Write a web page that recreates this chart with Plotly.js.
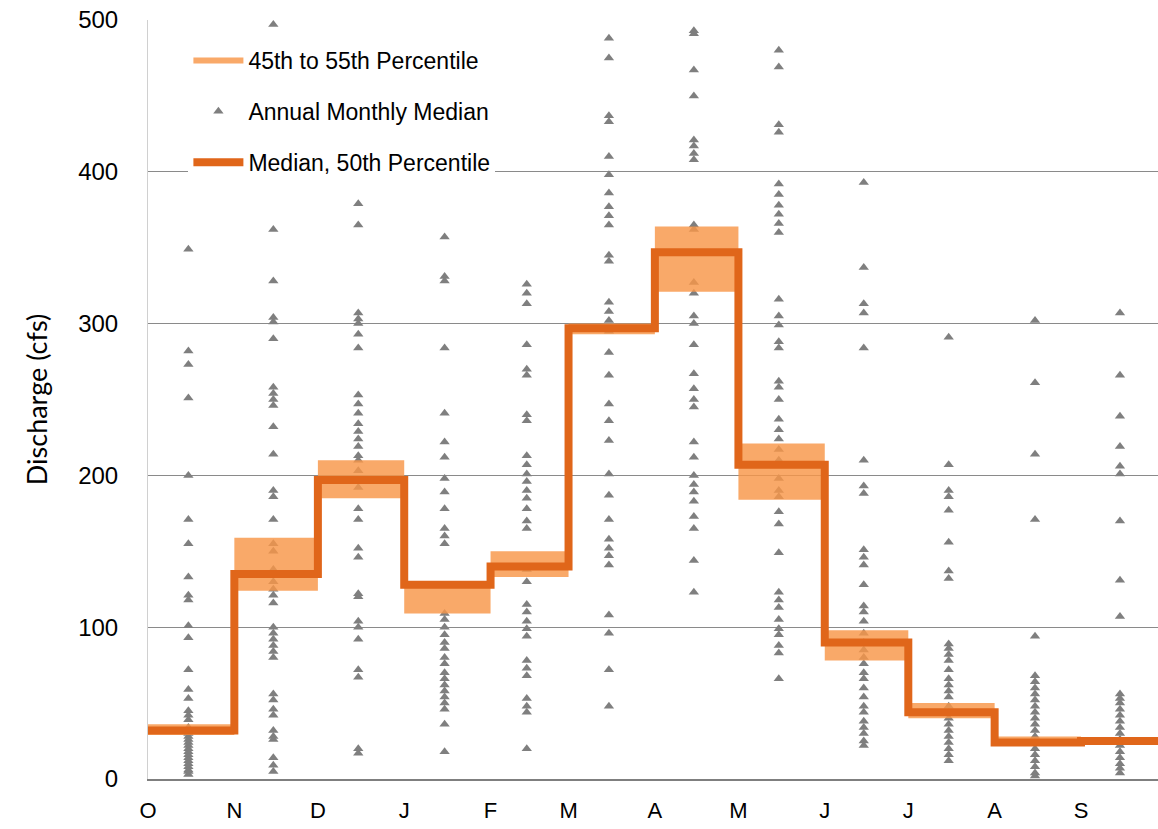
<!DOCTYPE html>
<html><head><meta charset="utf-8">
<script src="https://cdn.plot.ly/plotly-3.0.1.min.js"></script>
<style>html,body{margin:0;padding:0;background:#fff;overflow:hidden}#chart{width:1158px;height:829px}</style>
</head><body><div id="chart"></div>
<script>
// Month tick labels (water year, Oct - Sep) and month start days
const monthLabels = ['O','N','D','J','F','M','A','M','J','J','A','S'];
const monthStartDay = [0,31,61,92,123,151,182,212,243,273,304,335];
const waterYearEnd = 365;

// Median (50th percentile) and 45th / 55th percentile bands, cfs
const median50 = [32, 135, 197, 128, 140, 297, 347, 207, 90, 44, 24, 25];
const pct45    = [29, 124, 185, 109, 133, 293, 321, 184, 78, 40, 22, 23];
const pct55    = [36, 159, 210, 129, 150, 300, 364, 221, 98, 50, 28, 26];

// Annual monthly medians (one value per year), cfs
const octVals = [349,282,273,251,200,171,155,133,121,118,101,93,72,59,53,45,42,39,34,30,28,26,24,22,20,18,16,14,12,10,8,6,5,3];
const novVals = [497,362,328,304,301,290,258,254,250,246,232,214,190,186,171,155,150,138,130,125,121,116,100,96,92,88,84,80,56,52,46,42,32,28,26,14,9,5];
const decVals = [379,365,307,303,300,293,284,253,247,241,234,229,224,219,213,210,203,196,192,178,171,152,146,122,120,104,100,92,72,67,20,17];
const janVals = [357,331,328,284,241,222,212,198,189,178,165,160,155,109,105,100,95,90,86,80,76,70,66,62,58,54,50,46,36,18];
const febVals = [326,320,313,286,270,266,240,236,213,207,201,196,190,185,178,170,165,138,130,115,110,104,99,94,78,73,68,53,48,44,20];
const marVals = [488,475,437,433,410,398,386,377,371,365,345,341,314,308,302,295,281,266,247,236,223,201,187,171,158,152,147,141,108,96,72,48];
const aprVals = [493,491,467,450,421,417,412,408,365,362,327,320,305,300,286,267,257,250,245,222,212,200,194,189,183,173,165,144,123];
const mayVals = [480,469,431,426,392,385,378,372,366,360,316,305,299,288,284,262,258,250,237,230,224,217,210,198,190,186,176,168,149,123,118,113,105,99,95,88,83,66];
const junVals = [393,337,313,307,284,210,193,188,151,146,141,128,114,110,104,96,90,85,80,76,70,66,60,54,48,44,38,34,30,25,22];
const julVals = [291,207,190,186,177,156,137,132,89,86,82,78,72,66,62,58,54,48,44,40,36,32,28,24,20,16,12];
const augVals = [302,261,214,171,94,68,64,60,56,52,48,44,40,36,32,28,24,20,16,12,8,4,2];
const sepVals = [307,266,239,219,206,201,170,131,107,56,53,50,46,42,38,34,30,26,22,18,14,10,7,4];

const monthlyVals = [octVals,novVals,decVals,janVals,febVals,marVals,aprVals,mayVals,junVals,julVals,augVals,sepVals];

// build derived arrays
const monthEnd = monthStartDay.slice(1).concat([waterYearEnd]);
const ptX = [], ptY = [];
monthlyVals.forEach((vals, i) => {
  const mid = (monthStartDay[i] + monthEnd[i]) / 2 - 1;
  vals.forEach(v => { ptX.push(mid); ptY.push(v); });
});

// band polygon (step shaped)
const bandX = [], bandY = [];
for (let i = 0; i < 12; i++) { bandX.push(monthStartDay[i], monthEnd[i]); bandY.push(pct55[i], pct55[i]); }
for (let i = 11; i >= 0; i--) { bandX.push(monthEnd[i], monthStartDay[i]); bandY.push(pct45[i], pct45[i]); }
bandX.push(bandX[0]); bandY.push(bandY[0]);

// median step line
const medX = monthStartDay.concat([waterYearEnd]);
const medY = median50.concat([median50[11]]);

const traces = [
  {
    type: 'scatter', mode: 'markers', x: ptX, y: ptY,
    name: 'Annual Monthly Median', legendrank: 2, legendgroup: 'b',
    marker: {symbol: 'triangle-up', size: 9, color: '#7f7f7f'},
    hoverinfo: 'y'
  },
  {
    type: 'scatter', mode: 'none', x: bandX, y: bandY, fill: 'toself',
    fillcolor: 'rgba(248,150,72,0.82)',
    name: '45th to 55th Percentile', legendrank: 1, legendgroup: 'a',
    hoverinfo: 'skip'
  },
  {
    type: 'scatter', mode: 'lines', x: medX, y: medY,
    line: {shape: 'hv', color: '#e0661a', width: 8},
    name: 'Median, 50th Percentile', legendrank: 3, legendgroup: 'c'
  }
];

const layout = {
  width: 1158, height: 829,
  margin: {l: 148, r: 0, t: 20, b: 50},
  paper_bgcolor: '#ffffff', plot_bgcolor: '#ffffff',
  font: {family: '"Liberation Sans", Arial, sans-serif', color: '#000'},
  showlegend: true,
  legend: {
    x: 0.04, y: 0.975, xanchor: 'left', yanchor: 'top',
    bgcolor: '#ffffff', borderwidth: 0,
    font: {size: 23, family: '"Liberation Sans", Arial, sans-serif', color: '#000'},
    tracegroupgap: 18, itemwidth: 50
  },
  xaxis: {
    range: [0, (1158 - 148) / 2.785],
    tickmode: 'array', tickvals: monthStartDay, ticktext: monthLabels,
    showgrid: false, zeroline: false,
    showline: true, linecolor: '#7f7f7f', linewidth: 1.5,
    ticks: '', ticklabelstandoff: 11,
    tickfont: {size: 22, family: '"Liberation Sans", Arial, sans-serif', color: '#000'},
    fixedrange: true
  },
  yaxis: {
    range: [0, 500], tickmode: 'array', tickvals: [0,100,200,300,400,500],
    showgrid: true, gridcolor: '#8a8a8a', gridwidth: 1,
    zeroline: false, showline: true, linecolor: '#d0d0d0', linewidth: 1,
    ticks: '', ticklabelstandoff: 24,
    tickfont: {size: 24, family: '"Liberation Sans", Arial, sans-serif', color: '#000'},
    title: {text: 'Discharge (cfs)', font: {size: 27, family: 'Lato, "Open Sans", sans-serif', color: '#000'}, standoff: 22},
    fixedrange: true
  }
};

Plotly.newPlot('chart', traces, layout, {displayModeBar: false, staticPlot: true});
</script>
</body></html>
